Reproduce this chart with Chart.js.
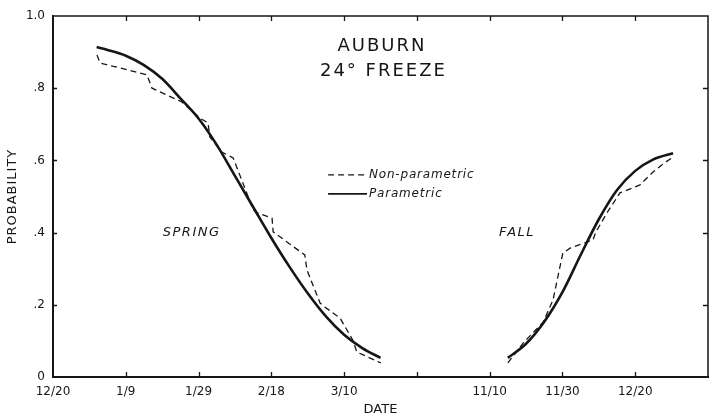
<!DOCTYPE html>
<html>
<head>
<meta charset="utf-8">
<script src="https://cdn.jsdelivr.net/npm/chart.js@4.4.0/dist/chart.umd.min.js"></script>
<style>
  html, body { margin: 0; padding: 0; background: #fff; }
</style>
</head>
<body>
<canvas id="myChart" width="711" height="417"></canvas>
<script>
// x axis is in days counted from 12/20; the axis is broken after 3/10 so fall dates start at 11/10 = day 120
var dateLabels = ['12/20', '1/9', '1/29', '2/18', '3/10', '', '11/10', '11/30', '12/20', ''];
var probLabels = ['0', '.2', '.4', '.6', '.8', '1.0'];

// spring
var springParamDays = [12, 15, 20, 25, 30, 35, 40, 45, 50, 55, 60, 65, 70, 75, 80, 85, 90];
var springParam = [0.914, 0.906, 0.890, 0.864, 0.826, 0.772, 0.716, 0.643, 0.557, 0.471, 0.385, 0.305, 0.232, 0.168, 0.117, 0.080, 0.053];
var springNpDays = [12.1, 12.9, 25.8, 27.2, 35.4, 40.4, 42.6, 43.1, 46.4, 49.5, 52.2, 55.0, 56.3, 60.2, 60.5, 69.2, 69.8, 73.4, 74.7, 78.9, 82.4, 83.5, 90.1];
var springNp = [0.892, 0.870, 0.837, 0.800, 0.762, 0.717, 0.704, 0.665, 0.623, 0.607, 0.537, 0.463, 0.454, 0.440, 0.402, 0.338, 0.296, 0.205, 0.194, 0.163, 0.102, 0.069, 0.039];

// fall
var fallParamDays = [125, 130, 135, 140, 145, 150, 155, 160, 165, 170.4];
var fallParam = [0.053, 0.092, 0.153, 0.235, 0.338, 0.437, 0.518, 0.571, 0.603, 0.620];
var fallNpDays = [125.0, 129.2, 134.7, 137.4, 140.1, 142.1, 148.4, 149.2, 152.2, 155.8, 161.3, 164.9, 167.6, 170.1];
var fallNp = [0.039, 0.094, 0.152, 0.213, 0.343, 0.357, 0.380, 0.402, 0.454, 0.510, 0.532, 0.568, 0.590, 0.607];

function pts(xs, ys) {
  return xs.map(function(x, i) { return {x: x, y: ys[i]}; });
}

var ink = '#161616';
var fontFam = '"DejaVu Sans", sans-serif';

var solid = {borderColor: ink, borderWidth: 2.6, pointRadius: 0, fill: false, cubicInterpolationMode: 'monotone'};
var dashed = {borderColor: ink, borderWidth: 1.3, borderDash: [6, 4], pointRadius: 0, fill: false, tension: 0};

// frame, inward ticks, labels and the legend
var decor = {
  id: 'decor',
  afterDraw: function(chart) {
    var ctx = chart.ctx, a = chart.chartArea;
    var xs = chart.scales.x, ys = chart.scales.y;
    ctx.save();
    ctx.strokeStyle = ink;
    ctx.lineWidth = 1.5;
    ctx.beginPath();
    ctx.moveTo(a.left, a.top); ctx.lineTo(a.right, a.top); ctx.lineTo(a.right, a.bottom);
    ctx.stroke();

    ctx.lineWidth = 1.3;
    ctx.beginPath();
    for (var v = 20; v <= 160; v += 20) {
      var px = Math.round(xs.getPixelForValue(v)) + 0.5;
      ctx.moveTo(px, a.bottom); ctx.lineTo(px, a.bottom - 5);
      ctx.moveTo(px, a.top); ctx.lineTo(px, a.top + 5);
    }
    for (var k = 1; k <= 4; k++) {
      var py = Math.round(ys.getPixelForValue(k * 0.2)) + 0.5;
      ctx.moveTo(a.left, py); ctx.lineTo(a.left + 4, py);
      ctx.moveTo(a.right, py); ctx.lineTo(a.right - 5, py);
    }
    ctx.stroke();

    ctx.fillStyle = ink;
    ctx.textAlign = 'center';
    ctx.textBaseline = 'middle';
    ctx.font = '18px ' + fontFam;
    ctx.letterSpacing = '2px';
    ctx.fillText('AUBURN', xs.getPixelForValue(90.4), ys.getPixelForValue(0.915));
    ctx.fillText('24° FREEZE', xs.getPixelForValue(90.8), ys.getPixelForValue(0.846));

    ctx.font = 'italic 13px ' + fontFam;
    ctx.letterSpacing = '1.5px';
    ctx.fillText('SPRING', xs.getPixelForValue(38.1), ys.getPixelForValue(0.40));
    ctx.fillText('FALL', xs.getPixelForValue(127.5), ys.getPixelForValue(0.40));

    // legend
    var sets = chart.data.datasets;
    var lx0 = xs.getPixelForValue(75.6), lx1 = xs.getPixelForValue(86.3);
    var rows = [{ds: sets[1], y: 0.56}, {ds: sets[0], y: 0.507}];
    ctx.font = 'italic 12px ' + fontFam;
    ctx.letterSpacing = '0.8px';
    ctx.textAlign = 'left';
    rows.forEach(function(r) {
      var yy = ys.getPixelForValue(r.y);
      ctx.beginPath();
      ctx.lineWidth = r.ds.borderWidth > 2 ? 1.8 : 1.3;
      ctx.setLineDash(r.ds.borderDash || []);
      ctx.moveTo(lx0, yy); ctx.lineTo(lx1, yy);
      ctx.stroke();
      ctx.setLineDash([]);
      ctx.fillText(r.ds.label, lx1 + 2, yy);
    });

    // y axis title, drawn by hand for the letter spacing
    ctx.translate(13, (a.top + a.bottom) / 2);
    ctx.rotate(-Math.PI / 2);
    ctx.textAlign = 'center';
    ctx.font = '13px ' + fontFam;
    ctx.letterSpacing = '1px';
    ctx.fillText('PROBABILITY', 0, 0);
    ctx.restore();
  }
};

var ctx = document.getElementById('myChart').getContext('2d');
var chart = new Chart(ctx, {
  type: 'line',
  data: {
    datasets: [
      Object.assign({label: 'Parametric', data: pts(springParamDays, springParam)}, solid),
      Object.assign({label: 'Non-parametric', data: pts(springNpDays, springNp)}, dashed),
      Object.assign({label: 'Parametric', data: pts(fallParamDays, fallParam)}, solid),
      Object.assign({label: 'Non-parametric', data: pts(fallNpDays, fallNp)}, dashed)
    ]
  },
  options: {
    responsive: false,
    animation: false,
    layout: {padding: {top: 16, right: 3, left: 0, bottom: 0}},
    plugins: {legend: {display: false}, tooltip: {enabled: false}},
    scales: {
      x: {
        type: 'linear', min: 0, max: 180,
        grid: {display: false, drawTicks: false},
        border: {display: true, color: ink, width: 2},
        ticks: {
          stepSize: 20, autoSkip: false, maxRotation: 0, padding: 8,
          color: ink, font: {family: fontFam, size: 12},
          callback: function(v, i) { return dateLabels[i]; }
        },
        title: {display: true, text: 'DATE', color: ink, font: {family: fontFam, size: 13}, padding: {top: 0, bottom: 0}},
        afterFit: function(s) { s.height = 40; s.paddingRight = 0; }
      },
      y: {
        min: 0, max: 1,
        grid: {display: false, drawTicks: false},
        border: {display: true, color: ink, width: 2},
        ticks: {
          stepSize: 0.2, padding: 8,
          color: ink, font: {family: fontFam, size: 12},
          callback: function(v, i) { return probLabels[i]; }
        },
        afterFit: function(s) { s.width = 53; }
      }
    }
  },
  plugins: [decor]
});
</script>
</body>
</html>
